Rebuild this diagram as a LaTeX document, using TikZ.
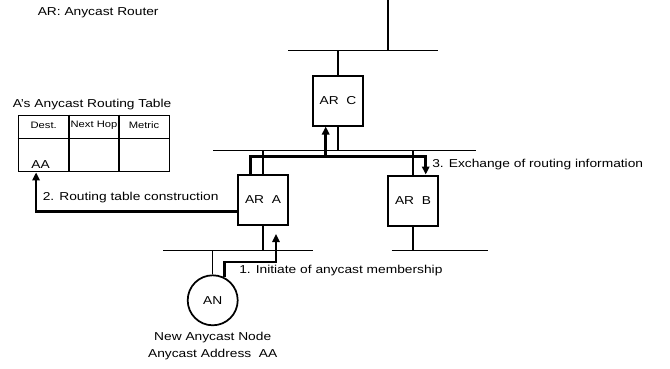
\documentclass[tikz,border=0pt]{standalone}
\usepackage{fontspec}
\setmainfont[FakeStretch=1.2]{Liberation Sans}
\usepackage{tikz}
\usetikzlibrary{arrows.meta, positioning, calc}

\begin{document}
\begin{tikzpicture}[
    x=0.75pt, y=-0.75pt,
    router/.style={draw, line width=1.5pt, minimum width=37.5pt, minimum height=37.5pt, inner sep=0pt, font=\fontsize{8.6}{10}\selectfont},
    host/.style={draw, circle, line width=1.3pt, minimum size=37.5pt, inner sep=0pt, font=\fontsize{8.6}{10}\selectfont},
    bus/.style={line width=0.8pt},
    flow/.style={-{Triangle[length=6pt, width=5.5pt]}, line width=1.9pt},
    lbl/.style={font=\fontsize{8.6}{10}\selectfont, inner sep=0pt},
    cell/.style={font=\fontsize{7}{8}\selectfont, inner sep=0pt}
]
    \useasboundingbox (0,0) rectangle (670,368);

    % legend
    \node[lbl, anchor=west] (legend) at (37.5,13) {AR: Anycast Router};

    % routing table of A
    \node[lbl, anchor=west] (tbltitle) at (12.5,105) {A's Anycast Routing Table};
    \node[draw, line width=0.9pt, minimum width=113.3pt, minimum height=42.5pt, inner sep=0pt] (tbl) at (93.8,143.5) {};
    \draw[line width=0.8pt] (tbl.west |- 0,138.3) -- (tbl.east |- 0,138.3);
    \draw[line width=0.8pt] (69,0 |- tbl.north) -- (69,0 |- tbl.south);
    \draw[line width=0.8pt] (119,0 |- tbl.north) -- (119,0 |- tbl.south);
    \node[cell] (dest) at (43.7,125) {Dest.};
    \node[cell] (nexthop) at (94,125) {Next Hop};
    \node[cell] (metric) at (144,125) {Metric};
    \node[lbl] (aa) at (40.5,165) {AA};

    % routers
    \node[router] (arC) at (338,100.5) {AR~~C};
    \node[router] (arA) at (263,200) {AR~~A};
    \node[router] (arB) at (413,200.5) {AR~~B};

    % new anycast node
    \node[host] (an) at (212.7,300.3) {AN};
    \node[lbl] (anname) at (212.7,338) {New Anycast Node};
    \node[lbl] (anaddr) at (212.7,354.5) {Anycast Address~~AA};

    % links
    \coordinate (uplink) at (388,0);
    \coordinate (topL) at (288,50.7);
    \coordinate (topR) at (438,50.7);
    \coordinate (midL) at (213,150.7);
    \coordinate (midR) at (476,150.7);
    \coordinate (lowL) at (163.3,250.7);
    \coordinate (lowLR) at (312.7,250.7);
    \coordinate (lowRL) at (391.7,250.7);
    \coordinate (lowR) at (488,250.7);
    \draw[bus] (topL) -- (topR);
    \draw[bus] (midL) -- (midR);
    \draw[bus] (lowL) -- (lowLR);
    \draw[bus] (lowRL) -- (lowR);
    \draw[bus] (uplink) -- (uplink |- topL);
    \draw[bus] (arC.north) -- (arC.north |- topL);
    \draw[bus] (arC.south) -- (arC.south |- midL);
    \draw[bus] (arA.north) -- (arA.north |- midL);
    \draw[bus] (arB.north) -- (arB.north |- midL);
    \draw[bus] (arA.south) -- (arA.south |- lowL);
    \draw[bus] (arB.south) -- (arB.south |- lowR);
    \draw[bus] (an.north) -- (an.north |- lowL);

    % 1. membership
    \draw[flow] (an.63) |- ($(arA.south)+(13,36)$) -- ($(arA.south)+(13,8)$);
    \node[lbl, anchor=west] (step1) at (239,270.7) {1. Initiate of anycast membership};

    % 2. table construction
    \draw[flow] ($(arA.west)+(0,11.7)$) -| ($(tbl.south west)+(18.4,0)$);
    \node[lbl, anchor=west] (step2) at (42.5,198) {2. Routing table construction};

    % 3. exchange
    \coordinate (fork) at (325.7,156.7);
    \draw[flow] ($(arA.north)+(-12.7,0)$) |- (fork) -| ($(arB.north)+(12.7,0)$);
    \draw[flow] (fork) -- (fork |- arC.south);
    \node[lbl, anchor=west] (step3) at (432,165) {3. Exchange of routing information};
\end{tikzpicture}
\end{document}
